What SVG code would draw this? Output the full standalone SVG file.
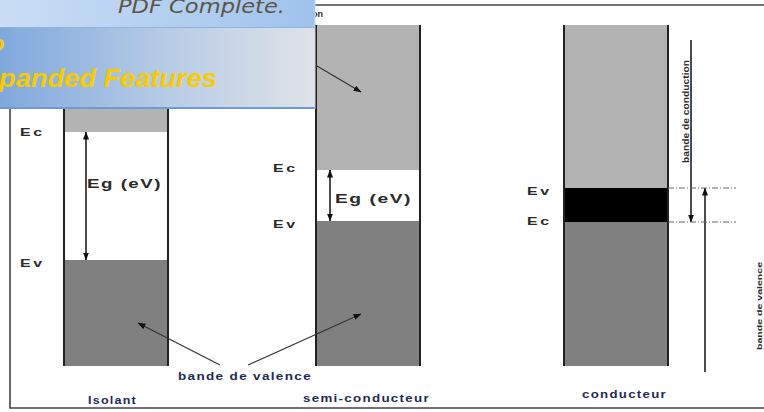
<svg xmlns="http://www.w3.org/2000/svg" width="764" height="412" viewBox="0 0 764 412">
<defs>
<marker id="ah" viewBox="0 0 8 6" refX="7.5" refY="3" markerWidth="8" markerHeight="6" markerUnits="userSpaceOnUse" orient="auto-start-reverse">
<path d="M0,0 L8,3 L0,6 z" fill="#111"/>
</marker>
<linearGradient id="gTop" x1="0" y1="0" x2="1" y2="0">
<stop offset="0" stop-color="#cadef5"/>
<stop offset="1" stop-color="#9fc3ec"/>
</linearGradient>
<linearGradient id="gBot" x1="0" y1="0" x2="1" y2="0">
<stop offset="0" stop-color="#7fa9dc"/>
<stop offset="0.55" stop-color="#b9cde6"/>
<stop offset="1" stop-color="#dfe3e8"/>
</linearGradient>
</defs>
<style>
.lab{font-family:"Liberation Sans",Arial,sans-serif;font-weight:bold;fill:#2a2a2a;}
.lv{font-size:11.5px;letter-spacing:2px;}
.eg{font-size:12.5px;letter-spacing:1px;}
.cap{font-size:10px;letter-spacing:1px;fill:#1e2a55;}
.edge{stroke:#222;stroke-width:2;fill:none;}
.light{fill:#b3b3b3;}
.dark{fill:#808080;}
.arr{stroke:#111;stroke-width:1.5;fill:none;}
.ptr{stroke:#333;stroke-width:1.2;fill:none;}
.dd{stroke:#666;stroke-width:1;stroke-dasharray:6 2 1 2;}
</style>
<rect width="764" height="412" fill="#fff"/>
<g id="frame">
<path d="M10,109 V408 H764" stroke="#444" stroke-width="1.6" fill="none"/>
<path d="M300,5 H764" stroke="#444" stroke-width="1.6" fill="none"/>
</g>
<g id="isolant">
<rect class="light" x="64" y="100" width="104" height="32"/>
<rect class="dark" x="64" y="260" width="104" height="106"/>
<path class="edge" d="M64,100 V366 M168,100 V366"/>
<text class="lab lv" x="20" y="136" textLength="25" lengthAdjust="spacingAndGlyphs">Ec</text>
<text class="lab lv" x="20" y="267" textLength="25" lengthAdjust="spacingAndGlyphs">Ev</text>
<text class="lab eg" x="87" y="188" textLength="75" lengthAdjust="spacingAndGlyphs">Eg (eV)</text>
<text class="lab cap" x="88" y="404" textLength="49" lengthAdjust="spacingAndGlyphs">Isolant</text>
</g>
<g id="semi-conducteur">
<rect class="light" x="316" y="25" width="104" height="145"/>
<rect class="dark" x="316" y="221" width="104" height="145"/>
<path class="edge" d="M316,25 V366 M420,25 V366"/>
<text class="lab lv" x="273" y="172" textLength="25" lengthAdjust="spacingAndGlyphs">Ec</text>
<text class="lab lv" x="273" y="228" textLength="25" lengthAdjust="spacingAndGlyphs">Ev</text>
<text class="lab eg" x="335" y="203" textLength="77" lengthAdjust="spacingAndGlyphs">Eg (eV)</text>
<text class="lab cap" x="303" y="402" textLength="127" lengthAdjust="spacingAndGlyphs">semi-conducteur</text>
</g>
<g id="conducteur">
<rect class="light" x="564" y="25" width="104" height="163"/>
<rect fill="#000" x="564" y="188" width="104" height="34"/>
<rect class="dark" x="564" y="222" width="104" height="144"/>
<path class="edge" d="M564,25 V366 M668,25 V366"/>
<text class="lab lv" x="527" y="195" textLength="25" lengthAdjust="spacingAndGlyphs">Ev</text>
<text class="lab lv" x="527" y="225" textLength="25" lengthAdjust="spacingAndGlyphs">Ec</text>
<text class="lab cap" x="582" y="398" textLength="85" lengthAdjust="spacingAndGlyphs">conducteur</text>
</g>
<g id="labels">
<text class="lab cap" x="178" y="380" textLength="134" lengthAdjust="spacingAndGlyphs">bande de valence</text>
<text class="lab" x="312" y="17" font-size="9" fill="#1e2a55">on</text>
<text class="lab" transform="translate(689,163) rotate(-90)" font-size="9" fill="#2a3a70" textLength="103" lengthAdjust="spacingAndGlyphs">bande de conduction</text>
<text class="lab" transform="translate(762,350) rotate(-90)" font-size="7" fill="#2a3a70" textLength="88" lengthAdjust="spacingAndGlyphs">bande de valence</text>
</g>
<g id="connectors">
<line class="arr" x1="86" y1="132" x2="86" y2="260" marker-start="url(#ah)" marker-end="url(#ah)"/>
<line class="arr" x1="330" y1="170" x2="330" y2="221" marker-start="url(#ah)" marker-end="url(#ah)"/>
<line class="arr" x1="691" y1="40" x2="691" y2="222" marker-end="url(#ah)"/>
<line class="arr" x1="705" y1="372" x2="705" y2="188" marker-end="url(#ah)"/>
<line class="dd" x1="668" y1="188" x2="736" y2="188"/>
<line class="dd" x1="668" y1="222" x2="736" y2="222"/>
<line class="ptr" x1="290" y1="50" x2="361" y2="92" marker-end="url(#ah)"/>
<line class="ptr" x1="220" y1="365" x2="138" y2="323" marker-end="url(#ah)"/>
<line class="ptr" x1="248" y1="365" x2="361" y2="314" marker-end="url(#ah)"/>
</g>
<g id="banner">
<rect x="0" y="0" width="315" height="27" fill="url(#gTop)"/>
<rect x="0" y="27" width="315" height="82" fill="url(#gBot)"/>
<line x1="0" y1="27.5" x2="315" y2="27.5" stroke="#8fb3e0" stroke-width="1"/>
<line x1="0" y1="108" x2="315" y2="108" stroke="#6f9bd4" stroke-width="2"/>
<line x1="315" y1="0" x2="315" y2="109" stroke="#c8d3e0" stroke-width="1"/>
<text x="118" y="13" font-family="'DejaVu Sans',Verdana,sans-serif" font-style="italic" font-size="20" fill="#5e5546" textLength="167" lengthAdjust="spacingAndGlyphs">PDF Complete.</text>
<text x="-9" y="51" font-family="'Liberation Sans',Arial,sans-serif" font-style="italic" font-weight="bold" font-size="22" fill="#f7cb00">o</text>
<text x="-1" y="87" font-family="'Liberation Sans',Arial,sans-serif" font-style="italic" font-weight="bold" font-size="26" fill="#f7cb00" textLength="218" lengthAdjust="spacingAndGlyphs">panded Features</text>
</g>
</svg>
